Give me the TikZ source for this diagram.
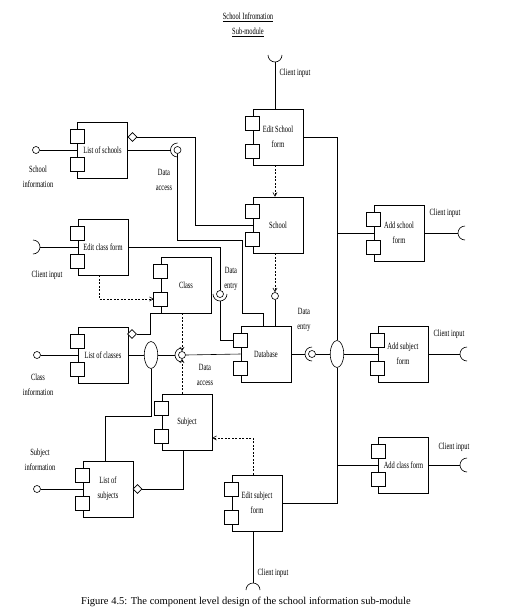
\documentclass[tikz,border=0pt]{standalone}
\usepackage{fontspec}
\setmainfont{Liberation Serif}
\newfontfamily\narrowserif{Liberation Serif}[FakeStretch=0.68]
\usepackage{tikz}
\usetikzlibrary{shapes.geometric, arrows}

\begin{document}
\begin{tikzpicture}[
    x=1pt, y=1pt, line width=0.6pt,
    every node/.style={font=\narrowserif\fontsize{9.5}{15}\selectfont, align=center, inner sep=1pt},
    compo/.style={draw, rectangle, fill=white, minimum width=50pt, minimum height=56pt}
  ]
  \tikzset{
    ball/.style={draw, circle, fill=white, inner sep=0pt, minimum size=7pt},
    hub/.style={draw, ellipse, fill=white, inner sep=0pt, minimum width=13.5pt, minimum height=27pt},
    agg/.style={draw, diamond, fill=white, inner sep=0pt, minimum size=9pt},
    dep/.style={dash pattern=on 2pt off 1.5pt, -angle 60},
    socket/.pic={\draw (7pt,7pt) arc[start angle=90, end angle=270, radius=7pt];}
  }
  \useasboundingbox (0,0) rectangle (514,-614);

  \node at (248,-25) {\underline{School Infromation}\\\underline{Sub-module}};

  \node[compo] (schools) at (102.5,-150) {List of schools};
  \node[compo] (editschool) at (278,-137) {Edit School\\form};
  \node[compo] (school) at (278,-225) {School};
  \node[compo] (editclass) at (103,-247) {Edit class form};
  \node[compo] (class) at (186,-285) {Class};
  \node[compo] (classes) at (103,-355) {List of classes};
  \node[compo] (database) at (266,-354) {Database};
  \node[compo] (subject) at (187,-422) {Subject};
  \node[compo] (subjects) at (108,-489) {List of\\subjects};
  \node[compo] (editsubject) at (257,-503) {Edit subject\\form};
  \node[compo] (addschool) at (399,-233) {Add school\\form};
  \node[compo] (addsubject) at (403,-354) {Add subject\\form};
  \node[compo] (addclass) at (403.5,-465) {Add class form};

  \node[ball] (schoolinfo) at (36,-150) {};
  \node[ball] (classinfo) at (37,-355) {};
  \node[ball] (subjectinfo) at (37,-489) {};
  \node[ball] (accschools) at (177.5,-150) {};
  \node[ball] (entryclass) at (220,-294) {};
  \node[ball] (accclasses) at (182,-355) {};
  \node[ball] (entrydb) at (312,-354) {};
  \node[ball] (entryschool) at (275,-296) {};
  \node[hub] (hubl) at (151,-355) {};
  \node[hub] (hubr) at (337,-354) {};
  \node[agg] (dschools) at (132.5,-137) {};
  \node[agg] (dclasses) at (132,-334) {};
  \node[agg] (dsubjects) at (137.5,-489) {};

  \coordinate (sockschools) at (170.5,-150);
  \coordinate (sockclass) at (220,-301);
  \coordinate (sockclasses) at (175,-355);
  \coordinate (sockdb) at (305,-354);
  \coordinate (inschool) at (275,-62);
  \coordinate (inclass) at (40,-247);
  \coordinate (inaddschool) at (458,-233);
  \coordinate (inaddsubject) at (460,-354);
  \coordinate (inaddclass) at (460,-465);
  \coordinate (insubject) at (253,-583);

  \draw (schoolinfo) -- (schools.west);
  \draw (classinfo) -- (classes.west);
  \draw (subjectinfo) -- (subjects.west);

  \draw (schools.east) -- (sockschools);
  \pic at (sockschools) {socket};
  \draw (accschools.south) -- ++(0,-86.5) -| (242,-313) -| ([xshift=-3pt]database.north);
  \draw (dschools.east) -- ++(58,0) |- (school.west);

  \draw ([xshift=-3pt]editschool.north) -- (inschool);
  \pic[rotate=90] at (inschool) {socket};
  \draw[dep] ([xshift=-3pt]editschool.south) -- ([xshift=-3pt]school.north);
  \draw[dep] ([xshift=-3pt]school.south) -- (entryschool.north);
  \draw (entryschool.south) -- (entryschool |- database.north);

  \draw (editclass.west) -- (inclass);
  \pic[rotate=180] at (inclass) {socket};
  \draw (editclass.east) -| (entryclass.north);
  \pic[rotate=90] at (sockclass) {socket};
  \draw (sockclass) |- ([shift={(-7pt,14pt)}]database.west);
  \draw[dep] ([xshift=-4pt]editclass.south) |- ([shift={(-7pt,-14pt)}]class.west);

  \draw (dclasses.east) -- ++(13,0) |- (class.south west);
  \draw (classes.east) -- (hubl.west);
  \draw (hubl.east) -- (sockclasses);
  \pic at (sockclasses) {socket};
  \draw (accclasses.east) -- (database.west);
  \draw[dep] (accclasses.north |- class.south) -- (accclasses.north);
  \draw[dep] (accclasses.south |- subject.north) -- (accclasses.south);
  \draw (hubl.south) -- ++(0,-47) -| ([xshift=-3pt]subjects.north);
  \draw (dsubjects.east) -| ([xshift=-4pt]subject.south);

  \draw (database.east) -- (sockdb);
  \pic at (sockdb) {socket};
  \draw (entrydb.east) -- (hubr.west);
  \draw (hubr.east) -- (addsubject.west);
  \draw (editschool.east) -| (hubr.north);
  \draw (hubr.south) |- (editsubject.east);
  \draw (hubr.north |- addschool.west) -- (addschool.west);
  \draw (hubr.south |- addclass.west) -- (addclass.west);

  \draw (addschool.east) -- (inaddschool);
  \pic at (inaddschool) {socket};
  \draw (addsubject.east) -- (inaddsubject);
  \pic at (inaddsubject) {socket};
  \draw (addclass.east) -- (inaddclass);
  \pic at (inaddclass) {socket};

  \draw[dep] ([xshift=-4pt]editsubject.north) |- ([yshift=-16pt]subject.east);
  \draw ([xshift=-4pt]editsubject.south) -- (insubject);
  \pic[rotate=270] at (insubject) {socket};

  \foreach \c in {schools, editschool, school, editclass, class, classes, database,
      subject, subjects, editsubject, addschool, addsubject, addclass}{
    \draw[fill=white] ([shift={(-7pt,7pt)}]\c.west) rectangle ([shift={(7pt,21pt)}]\c.west);
    \draw[fill=white] ([shift={(-7pt,-7pt)}]\c.west) rectangle ([shift={(7pt,-21pt)}]\c.west);
  }

  \node at (38,-177) {School\\information};
  \node at (164,-180) {Data\\access};
  \node at (295,-73) {Client input};
  \node at (47,-275) {Client input};
  \node at (231,-279) {Data\\entry};
  \node at (38,-385) {Class\\information};
  \node at (205,-375) {Data\\access};
  \node at (304,-320) {Data\\entry};
  \node at (445,-213) {Client input};
  \node at (449,-334) {Client input};
  \node at (454,-447) {Client input};
  \node at (40,-460) {Subject\\information};
  \node at (273,-573) {Client input};

  \node[font=\fontsize{10.5}{12}\selectfont] at (246,-602) {Figure 4.5: The component level design of the school information sub-module};
\end{tikzpicture}
\end{document}
